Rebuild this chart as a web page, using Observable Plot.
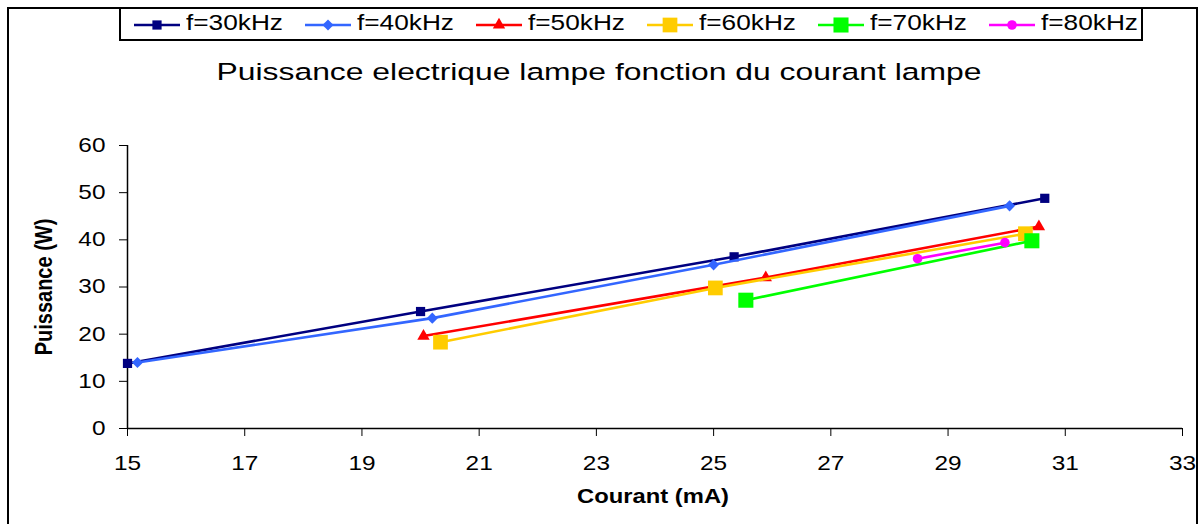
<!DOCTYPE html>
<html><head><meta charset="utf-8">
<script src="https://cdn.jsdelivr.net/npm/d3@7"></script>
<script src="https://cdn.jsdelivr.net/npm/@observablehq/plot@0.6"></script>
<style>
html,body{margin:0;padding:0;background:#fff;}
#root{position:relative;width:1201px;height:524px;overflow:hidden;font-family:"Liberation Sans",Arial,sans-serif;color:#000;}
#chart{position:absolute;left:0;top:0;}
#frame{position:absolute;left:7px;top:7px;width:1191px;height:560px;border:2px solid #000;box-sizing:border-box;pointer-events:none;}
#legend{position:absolute;left:119px;top:7px;width:1024px;height:34px;border:2px solid #000;box-sizing:border-box;background:#fff;}
.item{position:absolute;top:0;height:30px;}
.item svg{position:absolute;top:5px;left:0;}
.item span{position:absolute;left:52px;top:4px;font-size:21.5px;line-height:21.5px;white-space:nowrap;transform:scaleX(1.22);transform-origin:left center;}
#title{position:absolute;left:0;width:1198px;top:60px;text-align:center;font-size:24.5px;line-height:24.5px;white-space:nowrap;transform:scaleX(1.3);transform-origin:center;}
</style>
</head><body>
<div id="root">
  <div id="chart"></div>
  <div id="frame"></div>
  <div id="legend"></div>
  <div id="title"></div>
</div>
<script>
// ---- data ----
const seriesNames = ["f=30kHz", "f=40kHz", "f=50kHz", "f=60kHz", "f=70kHz", "f=80kHz"];
const courant30 = [15.0, 20.0, 25.35, 30.65];
const puissance30 = [13.8, 24.8, 36.4, 48.8];
const courant40 = [15.17, 20.2, 25.0, 30.05];
const puissance40 = [14.0, 23.4, 34.7, 47.2];
const courant50 = [20.05, 25.89, 30.55];
const puissance50 = [19.6, 32.0, 42.8];
const courant60 = [20.34, 25.03, 30.32];
const puissance60 = [18.3, 29.8, 41.3];
const courant70 = [25.55, 30.43];
const puissance70 = [27.2, 39.8];
const courant80 = [28.48, 29.97];
const puissance80 = [36.0, 39.4];
const xTicks = [15, 17, 19, 21, 23, 25, 27, 29, 31, 33];
const yTicks = [0, 10, 20, 30, 40, 50, 60];
const titleText = "Puissance electrique lampe fonction du courant lampe";
const xLabel = "Courant (mA)";
const yLabel = "Puissance (W)";

// ---- styles ----
const seriesColors = ["#000080", "#3366FF", "#FF0000", "#FFCC00", "#00FF00", "#FF00FF"];
const seriesSymbols = ["square", "diamond2", "triangle", "square", "square", "circle"];
const seriesR = [5.2, 5, 4.6, 8.3, 8.5, 4.8];

const xs = [courant30, courant40, courant50, courant60, courant70, courant80];
const ys = [puissance30, puissance40, puissance50, puissance60, puissance70, puissance80];
const tables = xs.map((cx, i) => cx.map((c, j) => ({courant: c, puissance: ys[i][j]})));

const marks = [
  Plot.ruleX([15], {stroke: "#000", strokeWidth: 1.5}),
  Plot.ruleY([0], {stroke: "#000", strokeWidth: 1.5}),
  Plot.axisX({ticks: xTicks, tickSize: 8, tickPadding: 19, label: null, stroke: "#000", fill: "#000"}),
  Plot.axisY({ticks: yTicks, tickSize: 8, tickPadding: 14, label: null, stroke: "#000", fill: "#000"}),
  Plot.text([xLabel], {text: d => d, frameAnchor: "bottom", dy: 68, dx: -2, textAnchor: "middle", lineAnchor: "middle", fontWeight: "bold", fontSize: 19.5, fill: "#000"}),
  Plot.text([yLabel], {text: d => d, frameAnchor: "left", dx: -83, rotate: -90, textAnchor: "middle", lineAnchor: "middle", fontWeight: "bold", fontSize: 20, fill: "#000"})
];
tables.forEach((t, i) => {
  marks.push(Plot.line(t, {x: "courant", y: "puissance", stroke: seriesColors[i], strokeWidth: 2.6}));
  marks.push(Plot.dot(t, {x: "courant", y: "puissance", symbol: seriesSymbols[i], r: seriesR[i], fill: seriesColors[i], stroke: "none"}));
});

const svg = Plot.plot({
  width: 1201,
  height: 524,
  marginLeft: 127,
  marginRight: 19,
  marginTop: 145,
  marginBottom: 96,
  x: {domain: [15, 33], axis: null},
  y: {domain: [0, 60], axis: null},
  style: {fontFamily: "'Liberation Sans', Arial, sans-serif", fontSize: "20px", color: "#000", background: "#fff"},
  marks
});
// horizontal stretch of text like the reference
const S = 1.22;
d3.select(svg).selectAll("text").each(function () {
  const t = this.getAttribute("transform") || "";
  if (t.includes("rotate")) this.setAttribute("transform", t.replace("rotate", `scale(${S},1) rotate`));
  else this.setAttribute("transform", t + ` scale(${S},1)`);
});
document.getElementById("chart").appendChild(svg);

// title
document.getElementById("title").textContent = titleText;

// legend
const symMap = {square: d3.symbolSquare, diamond2: d3.symbolDiamond2, triangle: d3.symbolTriangle, circle: d3.symbolCircle};
const legend = d3.select("#legend");
seriesNames.forEach((name, i) => {
  const item = legend.append("div").attr("class", "item").style("left", (13 + 171 * i) + "px");
  const s = item.append("svg").attr("width", 46).attr("height", 22);
  s.append("line").attr("x1", 0).attr("x2", 46).attr("y1", 11).attr("y2", 11)
    .attr("stroke", seriesColors[i]).attr("stroke-width", 2.6);
  s.append("path").attr("transform", "translate(23,11)")
    .attr("d", d3.symbol(symMap[seriesSymbols[i]], Math.PI * seriesR[i] * seriesR[i])())
    .attr("fill", seriesColors[i]);
  item.append("span").text(name);
});
</script>
</body></html>
